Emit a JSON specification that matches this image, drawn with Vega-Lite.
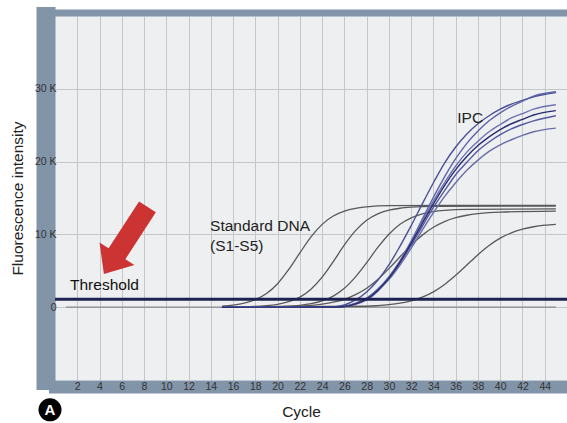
{
  "$schema": "https://vega.github.io/schema/vega-lite/v6.json",
  "width": 512,
  "height": 364,
  "autosize": {"type": "none"},
  "padding": {"left": 55, "top": 16, "right": 0, "bottom": 43},
  "background": "#ffffff",
  "view": {"fill": "#edeff0", "stroke": null},
  "config": {"font": "Liberation Sans"},
  "datasets": {
    "ntc": [{"c": 1, "v": 0}, {"c": 45, "v": 0}],
    "std": [
      {"s": "S1", "c": 15, "v": 0.15}, {"s": "S1", "c": 16, "v": 0.29}, {"s": "S1", "c": 17, "v": 0.55}, {"s": "S1", "c": 18, "v": 1.04}, {"s": "S1", "c": 19, "v": 1.88}, {"s": "S1", "c": 20, "v": 3.23}, {"s": "S1", "c": 21, "v": 5.18}, {"s": "S1", "c": 22, "v": 7.46}, {"s": "S1", "c": 23, "v": 9.66}, {"s": "S1", "c": 24, "v": 11.38}, {"s": "S1", "c": 25, "v": 12.52}, {"s": "S1", "c": 26, "v": 13.2}, {"s": "S1", "c": 27, "v": 13.58}, {"s": "S1", "c": 28, "v": 13.78}, {"s": "S1", "c": 30, "v": 13.94}, {"s": "S1", "c": 45, "v": 14.0},
      {"s": "S2", "c": 15, "v": 0.01}, {"s": "S2", "c": 18, "v": 0.11}, {"s": "S2", "c": 19, "v": 0.21}, {"s": "S2", "c": 20, "v": 0.4}, {"s": "S2", "c": 21, "v": 0.75}, {"s": "S2", "c": 22, "v": 1.39}, {"s": "S2", "c": 23, "v": 2.47}, {"s": "S2", "c": 24, "v": 4.12}, {"s": "S2", "c": 25, "v": 6.26}, {"s": "S2", "c": 26, "v": 8.55}, {"s": "S2", "c": 27, "v": 10.51}, {"s": "S2", "c": 28, "v": 11.93}, {"s": "S2", "c": 29, "v": 12.81}, {"s": "S2", "c": 30, "v": 13.32}, {"s": "S2", "c": 31, "v": 13.59}, {"s": "S2", "c": 32, "v": 13.74}, {"s": "S2", "c": 34, "v": 13.86}, {"s": "S2", "c": 45, "v": 13.9},
      {"s": "S3", "c": 15, "v": 0}, {"s": "S3", "c": 21, "v": 0.14}, {"s": "S3", "c": 22, "v": 0.26}, {"s": "S3", "c": 23, "v": 0.48}, {"s": "S3", "c": 24, "v": 0.86}, {"s": "S3", "c": 25, "v": 1.53}, {"s": "S3", "c": 26, "v": 2.59}, {"s": "S3", "c": 27, "v": 4.16}, {"s": "S3", "c": 28, "v": 6.11}, {"s": "S3", "c": 29, "v": 8.21}, {"s": "S3", "c": 30, "v": 10.03}, {"s": "S3", "c": 31, "v": 11.39}, {"s": "S3", "c": 32, "v": 12.28}, {"s": "S3", "c": 33, "v": 12.82}, {"s": "S3", "c": 34, "v": 13.13}, {"s": "S3", "c": 35, "v": 13.3}, {"s": "S3", "c": 37, "v": 13.44}, {"s": "S3", "c": 45, "v": 13.5},
      {"s": "S4", "c": 15, "v": 0}, {"s": "S4", "c": 22, "v": 0.16}, {"s": "S4", "c": 23, "v": 0.26}, {"s": "S4", "c": 24, "v": 0.43}, {"s": "S4", "c": 25, "v": 0.69}, {"s": "S4", "c": 26, "v": 1.09}, {"s": "S4", "c": 27, "v": 1.72}, {"s": "S4", "c": 28, "v": 2.61}, {"s": "S4", "c": 29, "v": 3.81}, {"s": "S4", "c": 30, "v": 5.3}, {"s": "S4", "c": 31, "v": 6.93}, {"s": "S4", "c": 32, "v": 8.53}, {"s": "S4", "c": 33, "v": 9.9}, {"s": "S4", "c": 34, "v": 10.98}, {"s": "S4", "c": 35, "v": 11.76}, {"s": "S4", "c": 36, "v": 12.29}, {"s": "S4", "c": 37, "v": 12.63}, {"s": "S4", "c": 38, "v": 12.85}, {"s": "S4", "c": 40, "v": 13.07}, {"s": "S4", "c": 45, "v": 13.2},
      {"s": "S5", "c": 15, "v": 0}, {"s": "S5", "c": 28, "v": 0.13}, {"s": "S5", "c": 29, "v": 0.21}, {"s": "S5", "c": 30, "v": 0.34}, {"s": "S5", "c": 31, "v": 0.55}, {"s": "S5", "c": 32, "v": 0.88}, {"s": "S5", "c": 33, "v": 1.38}, {"s": "S5", "c": 34, "v": 2.11}, {"s": "S5", "c": 35, "v": 3.12}, {"s": "S5", "c": 36, "v": 4.38}, {"s": "S5", "c": 37, "v": 5.8}, {"s": "S5", "c": 38, "v": 7.22}, {"s": "S5", "c": 39, "v": 8.48}, {"s": "S5", "c": 40, "v": 9.49}, {"s": "S5", "c": 41, "v": 10.22}, {"s": "S5", "c": 42, "v": 10.72}, {"s": "S5", "c": 43, "v": 11.05}, {"s": "S5", "c": 44, "v": 11.26}, {"s": "S5", "c": 45, "v": 11.39}
    ],
    "ipc": [
      {"s": "A", "c": 15, "v": 0}, {"s": "A", "c": 25, "v": 0.05}, {"s": "A", "c": 26, "v": 0.3}, {"s": "A", "c": 27, "v": 1.0}, {"s": "A", "c": 28, "v": 2.1}, {"s": "A", "c": 29, "v": 3.7}, {"s": "A", "c": 30, "v": 5.8}, {"s": "A", "c": 31, "v": 8.4}, {"s": "A", "c": 32, "v": 11.2}, {"s": "A", "c": 33, "v": 14.2}, {"s": "A", "c": 34, "v": 17.1}, {"s": "A", "c": 35, "v": 19.8}, {"s": "A", "c": 36, "v": 22.0}, {"s": "A", "c": 37, "v": 23.8}, {"s": "A", "c": 38, "v": 25.2}, {"s": "A", "c": 39, "v": 26.3}, {"s": "A", "c": 40, "v": 27.2}, {"s": "A", "c": 41, "v": 27.9}, {"s": "A", "c": 42, "v": 28.4}, {"s": "A", "c": 43, "v": 28.9}, {"s": "A", "c": 45, "v": 29.5},
      {"s": "B", "c": 15, "v": 0}, {"s": "B", "c": 25, "v": 0.02}, {"s": "B", "c": 26, "v": 0.1}, {"s": "B", "c": 27, "v": 0.4}, {"s": "B", "c": 28, "v": 1.0}, {"s": "B", "c": 29, "v": 2.2}, {"s": "B", "c": 30, "v": 4.0}, {"s": "B", "c": 31, "v": 6.3}, {"s": "B", "c": 32, "v": 9.1}, {"s": "B", "c": 33, "v": 12.1}, {"s": "B", "c": 34, "v": 15.1}, {"s": "B", "c": 35, "v": 17.9}, {"s": "B", "c": 36, "v": 20.4}, {"s": "B", "c": 37, "v": 22.5}, {"s": "B", "c": 38, "v": 24.2}, {"s": "B", "c": 39, "v": 25.6}, {"s": "B", "c": 40, "v": 26.7}, {"s": "B", "c": 41, "v": 27.6}, {"s": "B", "c": 42, "v": 28.3}, {"s": "B", "c": 43, "v": 29.0}, {"s": "B", "c": 45, "v": 29.6},
      {"s": "C", "c": 15, "v": 0}, {"s": "C", "c": 25, "v": 0.03}, {"s": "C", "c": 26, "v": 0.14}, {"s": "C", "c": 27, "v": 0.56}, {"s": "C", "c": 28, "v": 1.26}, {"s": "C", "c": 29, "v": 2.5}, {"s": "C", "c": 30, "v": 4.2}, {"s": "C", "c": 31, "v": 6.4}, {"s": "C", "c": 32, "v": 9.0}, {"s": "C", "c": 33, "v": 11.8}, {"s": "C", "c": 34, "v": 14.6}, {"s": "C", "c": 35, "v": 17.1}, {"s": "C", "c": 36, "v": 19.4}, {"s": "C", "c": 37, "v": 21.3}, {"s": "C", "c": 38, "v": 22.8}, {"s": "C", "c": 39, "v": 24.1}, {"s": "C", "c": 40, "v": 25.1}, {"s": "C", "c": 41, "v": 26.0}, {"s": "C", "c": 42, "v": 26.6}, {"s": "C", "c": 43, "v": 27.2}, {"s": "C", "c": 45, "v": 27.8},
      {"s": "D", "c": 15, "v": 0}, {"s": "D", "c": 25, "v": 0.03}, {"s": "D", "c": 26, "v": 0.13}, {"s": "D", "c": 27, "v": 0.5}, {"s": "D", "c": 28, "v": 1.2}, {"s": "D", "c": 29, "v": 2.4}, {"s": "D", "c": 30, "v": 4.0}, {"s": "D", "c": 31, "v": 6.1}, {"s": "D", "c": 32, "v": 8.5}, {"s": "D", "c": 33, "v": 11.1}, {"s": "D", "c": 34, "v": 13.7}, {"s": "D", "c": 35, "v": 16.0}, {"s": "D", "c": 36, "v": 18.2}, {"s": "D", "c": 37, "v": 19.9}, {"s": "D", "c": 38, "v": 21.5}, {"s": "D", "c": 39, "v": 22.7}, {"s": "D", "c": 40, "v": 23.7}, {"s": "D", "c": 41, "v": 24.5}, {"s": "D", "c": 42, "v": 25.1}, {"s": "D", "c": 43, "v": 25.6}, {"s": "D", "c": 45, "v": 26.3},
      {"s": "E", "c": 15, "v": 0}, {"s": "E", "c": 25, "v": 0.02}, {"s": "E", "c": 26, "v": 0.1}, {"s": "E", "c": 27, "v": 0.5}, {"s": "E", "c": 28, "v": 1.1}, {"s": "E", "c": 29, "v": 2.3}, {"s": "E", "c": 30, "v": 3.8}, {"s": "E", "c": 31, "v": 5.8}, {"s": "E", "c": 32, "v": 8.1}, {"s": "E", "c": 33, "v": 10.6}, {"s": "E", "c": 34, "v": 13.0}, {"s": "E", "c": 35, "v": 15.2}, {"s": "E", "c": 36, "v": 17.1}, {"s": "E", "c": 37, "v": 18.8}, {"s": "E", "c": 38, "v": 20.2}, {"s": "E", "c": 39, "v": 21.4}, {"s": "E", "c": 40, "v": 22.3}, {"s": "E", "c": 41, "v": 23.0}, {"s": "E", "c": 42, "v": 23.6}, {"s": "E", "c": 43, "v": 24.1}, {"s": "E", "c": 45, "v": 24.6},
      {"s": "F", "c": 15, "v": 0}, {"s": "F", "c": 25, "v": 0.02}, {"s": "F", "c": 26, "v": 0.1}, {"s": "F", "c": 27, "v": 0.45}, {"s": "F", "c": 28, "v": 1.1}, {"s": "F", "c": 29, "v": 2.3}, {"s": "F", "c": 30, "v": 4.0}, {"s": "F", "c": 31, "v": 6.2}, {"s": "F", "c": 32, "v": 8.8}, {"s": "F", "c": 33, "v": 11.5}, {"s": "F", "c": 34, "v": 14.2}, {"s": "F", "c": 35, "v": 16.7}, {"s": "F", "c": 36, "v": 18.9}, {"s": "F", "c": 37, "v": 20.7}, {"s": "F", "c": 38, "v": 22.2}, {"s": "F", "c": 39, "v": 23.4}, {"s": "F", "c": 40, "v": 24.4}, {"s": "F", "c": 41, "v": 25.2}, {"s": "F", "c": 42, "v": 25.8}, {"s": "F", "c": 43, "v": 26.4}, {"s": "F", "c": 45, "v": 27.0}
    ],
    "one": [{}]
  },
  "layer": [
    {
      "data": {"name": "ntc"},
      "mark": {"type": "line", "color": "#8a8a8a", "strokeWidth": 1.2},
      "encoding": {
        "x": {
          "field": "c", "type": "quantitative",
          "scale": {"domain": [0, 46], "nice": false, "zero": false},
          "axis": {
            "orient": "bottom",
            "values": [2, 4, 6, 8, 10, 12, 14, 16, 18, 20, 22, 24, 26, 28, 30, 32, 34, 36, 38, 40, 42, 44],
            "grid": true, "gridColor": "#c4c6c8", "gridWidth": 1,
            "domainColor": "#8294a8", "domainWidth": 13, "domainCap": "square", "offset": 6.5,
            "ticks": false, "tickSize": 0, "labels": false, "title": null
          }
        },
        "y": {
          "field": "v", "type": "quantitative",
          "scale": {"domain": [-10, 40], "nice": false, "zero": false},
          "axis": {
            "orient": "left",
            "values": [0, 10, 20, 30],
            "grid": true, "gridColor": "#c4c6c8", "gridWidth": 1,
            "domainColor": "#8294a8", "domainWidth": 19, "domainCap": "square", "offset": 9.5,
            "ticks": false, "tickSize": 0, "labels": false, "title": null
          }
        }
      }
    },
    {
      "data": {"name": "std"},
      "mark": {"type": "line", "color": "#595959", "strokeWidth": 1.3, "interpolate": "monotone"},
      "encoding": {
        "x": {
          "field": "c", "type": "quantitative",
          "axis": {
            "orient": "bottom",
            "values": [2, 4, 6, 8, 10, 12, 14, 16, 18, 20, 22, 24, 26, 28, 30, 32, 34, 36, 38, 40, 42, 44],
            "grid": false, "domain": false, "offset": 6.5,
            "ticks": false, "tickSize": 0, "labelPadding": 0, "labelBaseline": "middle",
            "labelFontSize": 10.5, "labelColor": "#333333", "labelFlush": false, "labelOverlap": false,
            "title": "Cycle", "titleFontSize": 15.5, "titleFontWeight": "normal", "titleColor": "#222222",
            "titlePadding": 12, "titleX": 246
          }
        },
        "y": {
          "field": "v", "type": "quantitative",
          "axis": {
            "orient": "left",
            "values": [0, 10, 20, 30],
            "labelExpr": "datum.value == 0 ? '0' : datum.value + ' K'",
            "grid": false, "domain": false, "offset": 9.5,
            "ticks": false, "tickSize": 0, "labelPadding": -10.5, "labelAlign": "right", "labelBaseline": "middle",
            "labelFontSize": 10.5, "labelColor": "#333333",
            "title": "Fluorescence intensity", "titleFontSize": 15.5, "titleFontWeight": "normal", "titleColor": "#222222",
            "titlePadding": 9
          }
        },
        "detail": {"field": "s"}
      }
    },
    {
      "data": {"name": "ipc"},
      "mark": {"type": "line", "strokeWidth": 1.4, "interpolate": "monotone"},
      "encoding": {
        "x": {
          "field": "c", "type": "quantitative",
          "axis": {"orient": "top", "labels": false, "ticks": false, "grid": false, "domainColor": "#8294a8", "domainWidth": 7, "domainCap": "square", "offset": 3.5, "title": null}
        },
        "y": {"field": "v", "type": "quantitative", "axis": null},
        "color": {
          "field": "s", "type": "nominal", "legend": null,
          "scale": {"domain": ["A", "B", "C", "D", "E", "F"], "range": ["#4b4f96", "#5d62a8", "#6e72b2", "#5358a0", "#6a6ea8", "#2a2d6e"]}
        }
      }
    },
    {
      "data": {"name": "one"},
      "mark": {"type": "rule", "color": "#1e2152", "strokeWidth": 3},
      "encoding": {"y": {"datum": 1.1, "type": "quantitative", "axis": null}}
    },
    {
      "data": {"name": "one"},
      "mark": {"type": "text", "align": "center", "baseline": "middle", "fontSize": 15.5, "color": "#222222"},
      "encoding": {
        "x": {"datum": 37.3, "type": "quantitative", "axis": null},
        "y": {"datum": 26.0, "type": "quantitative", "axis": null},
        "text": {"value": "IPC"}
      }
    },
    {
      "data": {"name": "one"},
      "mark": {"type": "text", "align": "left", "baseline": "middle", "fontSize": 15.5, "color": "#222222"},
      "encoding": {
        "x": {"datum": 13.93, "type": "quantitative", "axis": null},
        "y": {"datum": 11.2, "type": "quantitative", "axis": null},
        "text": {"value": "Standard DNA"}
      }
    },
    {
      "data": {"name": "one"},
      "mark": {"type": "text", "align": "left", "baseline": "middle", "fontSize": 15.5, "color": "#222222"},
      "encoding": {
        "x": {"datum": 13.93, "type": "quantitative", "axis": null},
        "y": {"datum": 8.4, "type": "quantitative", "axis": null},
        "text": {"value": "(S1-S5)"}
      }
    },
    {
      "data": {"name": "one"},
      "mark": {"type": "text", "align": "left", "baseline": "middle", "fontSize": 15.5, "color": "#111111"},
      "encoding": {
        "x": {"datum": 1.35, "type": "quantitative", "axis": null},
        "y": {"datum": 3.05, "type": "quantitative", "axis": null},
        "text": {"value": "Threshold"}
      }
    },
    {
      "data": {"name": "one"},
      "mark": {"type": "point", "shape": "M-0.25,-1L0.25,-1L0.25,0.4L0.52,0.4L0,1L-0.52,0.4L-0.25,0.4Z", "filled": true, "color": "#cc3333", "opacity": 1, "size": 6400, "angle": 33, "strokeWidth": 0},
      "encoding": {
        "x": {"datum": 6.35, "type": "quantitative", "axis": null},
        "y": {"datum": 9.18, "type": "quantitative", "axis": null}
      }
    },
    {
      "data": {"name": "one"},
      "mark": {"type": "point", "shape": "circle", "filled": true, "color": "#000000", "opacity": 1, "size": 530, "clip": false},
      "encoding": {
        "x": {"datum": -0.45, "type": "quantitative", "axis": null},
        "y": {"datum": -14.1, "type": "quantitative", "axis": null}
      }
    },
    {
      "data": {"name": "one"},
      "mark": {"type": "text", "align": "center", "baseline": "middle", "fontSize": 15, "fontWeight": "bold", "color": "#ffffff", "clip": false},
      "encoding": {
        "x": {"datum": -0.45, "type": "quantitative", "axis": null},
        "y": {"datum": -14.1, "type": "quantitative", "axis": null},
        "text": {"value": "A"}
      }
    }
  ],
  "resolve": {"axis": {"x": "independent", "y": "independent"}}
}
